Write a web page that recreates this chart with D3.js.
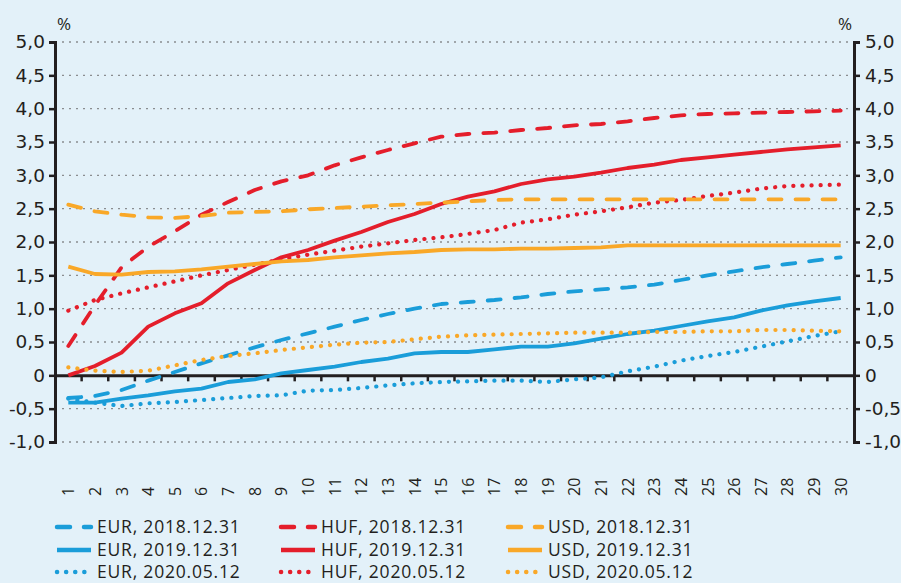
<!DOCTYPE html>
<html>
<head>
<meta charset="utf-8">
<script src="https://cdn.jsdelivr.net/npm/d3@7"></script>
<style>
  body { margin: 0; background: #e3f1f9; }
  svg { display: block; }
  text { font-family: "Open Sans", "Noto Sans", sans-serif; fill: #231f20; }
</style>
</head>
<body>
<div id="chart"></div>
<script>
const categories = ["1","2","3","4","5","6","7","8","9","10","11","12","13","14","15",
  "16","17","18","19","20","21","22","23","24","25","26","27","28","29","30"];

const yTicks = [-1, -0.5, 0, 0.5, 1, 1.5, 2, 2.5, 3, 3.5, 4, 4.5, 5];

const eur2018 = [-0.34,-0.31,-0.22,-0.08,0.05,0.18,0.30,0.42,0.53,0.63,0.73,0.83,0.92,1.00,1.07,1.10,1.13,1.17,1.22,1.26,1.29,1.32,1.36,1.43,1.50,1.56,1.62,1.67,1.72,1.77];
const eur2019 = [-0.41,-0.41,-0.35,-0.30,-0.24,-0.20,-0.10,-0.06,0.03,0.08,0.13,0.20,0.25,0.33,0.35,0.35,0.39,0.43,0.43,0.48,0.55,0.62,0.67,0.74,0.81,0.87,0.97,1.05,1.11,1.16];
const eur2020 = [-0.35,-0.41,-0.46,-0.42,-0.40,-0.37,-0.34,-0.31,-0.30,-0.23,-0.22,-0.19,-0.15,-0.12,-0.10,-0.09,-0.08,-0.08,-0.10,-0.06,-0.03,0.06,0.13,0.22,0.29,0.35,0.43,0.51,0.59,0.66];

const huf2018 = [0.44,1.05,1.62,1.93,2.16,2.41,2.60,2.78,2.91,3.00,3.15,3.27,3.38,3.48,3.58,3.62,3.64,3.68,3.71,3.75,3.77,3.81,3.86,3.90,3.92,3.93,3.94,3.95,3.96,3.97];
const huf2019 = [0.00,0.14,0.34,0.73,0.93,1.08,1.38,1.58,1.77,1.88,2.02,2.15,2.30,2.42,2.57,2.68,2.76,2.87,2.94,2.98,3.04,3.11,3.16,3.23,3.27,3.31,3.35,3.39,3.42,3.45];
const huf2020 = [0.97,1.13,1.23,1.32,1.41,1.50,1.58,1.66,1.74,1.81,1.87,1.93,1.98,2.03,2.07,2.12,2.18,2.29,2.34,2.41,2.46,2.52,2.59,2.63,2.69,2.74,2.80,2.84,2.85,2.86];

const usd2018 = [2.56,2.46,2.41,2.37,2.36,2.39,2.44,2.45,2.46,2.49,2.51,2.53,2.55,2.57,2.59,2.61,2.63,2.64,2.64,2.64,2.64,2.64,2.64,2.64,2.64,2.64,2.64,2.64,2.64,2.64];
const usd2019 = [1.63,1.52,1.51,1.55,1.56,1.59,1.63,1.67,1.71,1.73,1.77,1.80,1.83,1.85,1.88,1.89,1.89,1.90,1.90,1.91,1.92,1.95,1.95,1.95,1.95,1.95,1.95,1.95,1.95,1.95];
const usd2020 = [0.12,0.07,0.05,0.07,0.15,0.23,0.29,0.33,0.38,0.42,0.46,0.49,0.50,0.54,0.58,0.60,0.61,0.62,0.63,0.64,0.64,0.64,0.65,0.65,0.66,0.66,0.68,0.68,0.67,0.66];

const colors = { EUR: "#1a9dd9", HUF: "#e41e2b", USD: "#f9a828" };
const styles = { dashed: "13,14", solid: null, dotted: "0.1,9" };

const series = [
  { name: "EUR, 2018.12.31", cur: "EUR", style: "dashed", values: eur2018 },
  { name: "EUR, 2019.12.31", cur: "EUR", style: "solid", values: eur2019 },
  { name: "EUR, 2020.05.12", cur: "EUR", style: "dotted", values: eur2020 },
  { name: "HUF, 2018.12.31", cur: "HUF", style: "dashed", values: huf2018 },
  { name: "HUF, 2019.12.31", cur: "HUF", style: "solid", values: huf2019 },
  { name: "HUF, 2020.05.12", cur: "HUF", style: "dotted", values: huf2020 },
  { name: "USD, 2018.12.31", cur: "USD", style: "dashed", values: usd2018 },
  { name: "USD, 2019.12.31", cur: "USD", style: "solid", values: usd2019 },
  { name: "USD, 2020.05.12", cur: "USD", style: "dotted", values: usd2020 }
];

const width = 901, height = 583;
const margin = { left: 55, right: 47, top: 42, bottom: 141 };

const svg = d3.select("#chart").append("svg")
  .attr("width", width)
  .attr("height", height);

svg.append("rect")
  .attr("width", width)
  .attr("height", height)
  .attr("fill", "#e3f1f9");

const x = d3.scaleBand()
  .domain(categories)
  .range([margin.left, width - margin.right]);

const y = d3.scaleLinear()
  .domain([-1, 5])
  .range([height - margin.bottom, margin.top]);

const fmt = v => v === 0 ? "0" : d3.format(".1f")(v).replace(".", ",").replace("−", "-");

// gridlines
svg.append("g")
  .selectAll("line")
  .data(yTicks.filter(v => v !== 0))
  .enter().append("line")
  .attr("x1", x.range()[0])
  .attr("x2", x.range()[1])
  .attr("y1", d => y(d))
  .attr("y2", d => y(d))
  .attr("stroke", "#8a8d90")
  .attr("stroke-width", 1.3)
  .attr("stroke-dasharray", "2,5");

// left and right axes
const leftAxis = svg.append("g")
  .attr("transform", `translate(${x.range()[0]},0)`)
  .call(d3.axisLeft(y).tickValues(yTicks).tickFormat(fmt).tickSize(6).tickPadding(4));

const rightAxis = svg.append("g")
  .attr("transform", `translate(${x.range()[1]},0)`)
  .call(d3.axisRight(y).tickValues(yTicks).tickFormat(fmt).tickSize(6).tickPadding(5));

[leftAxis, rightAxis].forEach(g => {
  g.select(".domain").attr("stroke", "#231f20").attr("stroke-width", 3);
  g.selectAll(".tick line").attr("stroke", "#231f20").attr("stroke-width", 2.5);
  g.selectAll(".tick text")
    .style("font-family", "'DejaVu Sans', sans-serif")
    .style("font-size", "18.5px")
    .attr("fill", "#231f20");
});

// zero line with category ticks
const xAxis = svg.append("g")
  .attr("transform", `translate(0,${y(0)})`)
  .call(d3.axisBottom(x).tickSize(0).tickFormat(""));
xAxis.select(".domain").attr("stroke", "#231f20").attr("stroke-width", 3);

svg.append("g")
  .selectAll("line")
  .data(categories.slice(1))
  .enter().append("line")
  .attr("x1", d => x(d))
  .attr("x2", d => x(d))
  .attr("y1", y(0))
  .attr("y2", y(0) + 6)
  .attr("stroke", "#231f20")
  .attr("stroke-width", 2.5);

// rotated category labels
svg.append("g")
  .selectAll("text")
  .data(categories)
  .enter().append("text")
  .attr("transform", d => `translate(${x(d) + x.bandwidth() / 2 + 6},496) rotate(-90)`)
  .attr("text-anchor", "start")
  .style("font-size", "16px")
  .text(d => d);

// unit labels
svg.append("text")
  .attr("x", 64).attr("y", 30)
  .attr("text-anchor", "middle")
  .style("font-size", "17px")
  .text("%");
svg.append("text")
  .attr("x", 845).attr("y", 30)
  .attr("text-anchor", "middle")
  .style("font-size", "17px")
  .text("%");

// lines
const line = d3.line()
  .x((d, i) => x(categories[i]) + x.bandwidth() / 2)
  .y(d => y(d));

svg.append("g")
  .selectAll("path")
  .data(series)
  .enter().append("path")
  .attr("d", d => line(d.values))
  .attr("fill", "none")
  .attr("stroke", d => colors[d.cur])
  .attr("stroke-width", d => d.style === "dotted" ? 4.2 : 3.8)
  .attr("stroke-linecap", d => d.style === "solid" ? "butt" : "round")
  .attr("stroke-linejoin", "round")
  .attr("stroke-dasharray", d => styles[d.style]);

// legend
const legendCols = [55, 279, 506];
const legendRows = [527, 550, 572];

const legend = svg.append("g")
  .selectAll("g")
  .data(series)
  .enter().append("g")
  .attr("transform", (d, i) => `translate(${legendCols[Math.floor(i / 3)]},${legendRows[i % 3]})`);

legend.append("line")
  .attr("x1", 2).attr("x2", 36)
  .attr("y1", 0).attr("y2", 0)
  .attr("stroke", d => colors[d.cur])
  .attr("stroke-width", 4.5)
  .attr("stroke-linecap", d => d.style === "solid" ? "butt" : "round")
  .attr("stroke-dasharray", d => d.style === "dashed" ? "13,14" : d.style === "dotted" ? "0.1,9" : null);

legend.append("text")
  .attr("x", 42)
  .attr("y", 6)
  .style("font-size", "17.5px")
  .style("letter-spacing", "0.8px")
  .text(d => d.name);
</script>
</body>
</html>
